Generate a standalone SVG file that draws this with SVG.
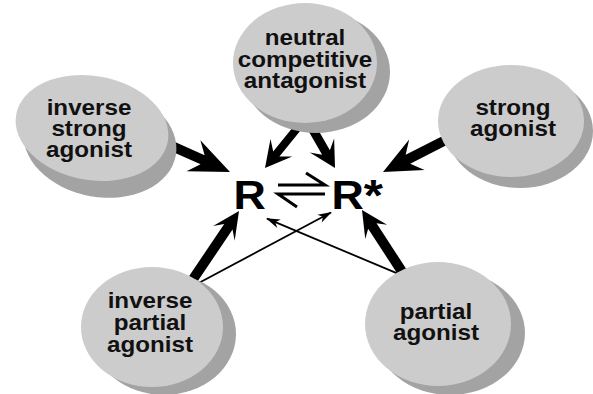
<svg xmlns="http://www.w3.org/2000/svg" width="593" height="394" viewBox="0 0 593 394">
  <defs>
    <style>
      .front { fill: #cccccc; }
      .shadow { fill: #a3a3a3; }
      .lbl { font-family: "Liberation Sans", Arial, Helvetica, sans-serif; font-weight: bold; font-size: 22px; fill: #111111; text-anchor: middle; }
      .big { fill: #000000; }
      .thin { fill: none; stroke: #000000; stroke-width: 1.8; }
      .harp { fill: none; stroke: #000000; stroke-width: 3; stroke-linejoin: miter; }
      .state { font-family: "Liberation Sans", Arial, Helvetica, sans-serif; font-weight: bold; font-size: 40px; fill: #000000; }
    </style>
    <marker id="ah" markerUnits="userSpaceOnUse" viewBox="-14 -6 16 12" markerWidth="16" markerHeight="12" refX="0" refY="0" orient="auto">
      <path d="M1,0 L-13,-4.5 L-9,0 L-13,4.5 Z" fill="#000000"/>
    </marker>
  </defs>
  <rect width="593" height="394" fill="#ffffff"/>

  <g id="connectors">
    <polygon class="big" transform="translate(230,172) rotate(24)" points="-85,-5 -30,-5 -40,-17 0,0 -40,17 -30,5 -85,5"/>
    <polygon class="big" transform="translate(265,168) rotate(129)" points="-55,-4 -18,-4 -26,-14 0,0 -26,14 -18,4 -55,4"/>
    <polygon class="big" transform="translate(335,168) rotate(60)" points="-55,-4.5 -18,-4.5 -26,-14 0,0 -26,14 -18,4.5 -55,4.5"/>
    <polygon class="big" transform="translate(383,172) rotate(153)" points="-85,-5 -28,-5 -38,-17 0,0 -38,17 -28,5 -85,5"/>
    <polygon class="big" transform="translate(239,211) rotate(-56)" points="-85,-5 -19,-5 -27,-13 0,0 -27,13 -19,5 -85,5"/>
    <polygon class="big" transform="translate(362,210) rotate(-123)" points="-85,-5 -19,-5 -26,-13 0,0 -26,13 -19,5 -85,5"/>
    <path class="thin" d="M195,285 L331,212.5" marker-end="url(#ah)"/>
    <path class="thin" d="M405,276.6 L267,218.7" marker-end="url(#ah)"/>
    <path class="harp" d="M306,173 L325,185 L278,185"/>
    <path class="harp" d="M325,194 L278,194 L297,207"/>
  </g>

  <g id="R">
    <text class="state" transform="translate(233.5,209) scale(1.12,1)" x="0" y="0">R</text>
  </g>
  <g id="Rstar">
    <text class="state" transform="translate(331.5,209) scale(1.12,1)" x="0" y="0">R<tspan font-size="44" dy="2">*</tspan></text>
  </g>

  <g id="inverse-strong-agonist">
    <ellipse class="shadow" cx="100" cy="142" rx="77" ry="55" transform="rotate(10 100 142)"/>
    <ellipse class="front" cx="92" cy="128" rx="77" ry="52" transform="rotate(10 92 128)"/>
    <text class="lbl" transform="translate(89,115) scale(1.1,1)"><tspan x="0" y="0">inverse</tspan><tspan x="0" y="21">strong</tspan><tspan x="0" y="42">agonist</tspan></text>
  </g>

  <g id="neutral-competitive-antagonist">
    <ellipse class="shadow" cx="316" cy="72" rx="74" ry="61"/>
    <ellipse class="front" cx="305" cy="63" rx="72" ry="60"/>
    <text class="lbl" transform="translate(305,45) scale(1.1,1)"><tspan x="0" y="0">neutral</tspan><tspan x="0" y="22">competitive</tspan><tspan x="0" y="43">antagonist</tspan></text>
  </g>

  <g id="strong-agonist">
    <ellipse class="shadow" cx="520" cy="131" rx="73" ry="57"/>
    <ellipse class="front" cx="511" cy="121" rx="73" ry="56"/>
    <text class="lbl" transform="translate(513,115) scale(1.1,1)"><tspan x="0" y="0">strong</tspan><tspan x="0" y="21">agonist</tspan></text>
  </g>

  <g id="inverse-partial-agonist">
    <ellipse class="shadow" cx="164" cy="334" rx="72" ry="61"/>
    <ellipse class="front" cx="152" cy="327" rx="71" ry="60"/>
    <text class="lbl" transform="translate(150,308) scale(1.1,1)"><tspan x="0" y="0">inverse</tspan><tspan x="0" y="22">partial</tspan><tspan x="0" y="44">agonist</tspan></text>
  </g>

  <g id="partial-agonist">
    <ellipse class="shadow" cx="450" cy="333" rx="75" ry="62"/>
    <ellipse class="front" cx="438" cy="324" rx="73" ry="62"/>
    <text class="lbl" transform="translate(436,319) scale(1.1,1)"><tspan x="0" y="0">partial</tspan><tspan x="0" y="21">agonist</tspan></text>
  </g>
</svg>
